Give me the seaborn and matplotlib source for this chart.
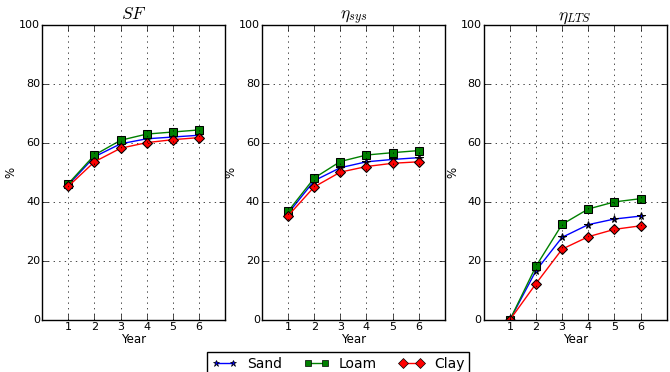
import pandas as pd
import matplotlib
matplotlib.use("Agg")
import matplotlib.pyplot as plt
import seaborn as sns

plt.style.use("classic")

years = [1, 2, 3, 4, 5, 6]
soils = ["Sand", "Loam", "Clay"]
titles = [r"$SF$", r"$\eta_{sys}$", r"$\eta_{LTS}$"]

# SF
sf_sand = [45.8, 55.3, 59.7, 61.4, 62.0, 62.6]
sf_loam = [46.2, 55.9, 60.9, 63.0, 63.7, 64.4]
sf_clay = [45.3, 53.6, 58.2, 60.1, 61.1, 61.8]
# eta_sys
sys_sand = [36.1, 47.2, 51.6, 53.6, 54.4, 55.0]
sys_loam = [36.8, 48.1, 53.7, 55.9, 56.7, 57.4]
sys_clay = [35.3, 45.1, 50.1, 52.0, 53.1, 53.6]
# eta_LTS
lts_sand = [0.0, 16.7, 28.0, 32.3, 34.2, 35.2]
lts_loam = [0.0, 18.2, 32.4, 37.6, 40.0, 41.1]
lts_clay = [0.0, 12.3, 24.0, 28.2, 30.7, 31.9]

panels = [
    [sf_sand, sf_loam, sf_clay],
    [sys_sand, sys_loam, sys_clay],
    [lts_sand, lts_loam, lts_clay],
]

farby = {"Sand": "blue", "Loam": "green", "Clay": "red"}
markery = {"Sand": "*", "Loam": "s", "Clay": "D"}

fig = plt.figure(figsize=(6.7, 3.72), dpi=100)
fig.patch.set_facecolor("white")
lefts = [0.063, 0.391, 0.722]
axes = [fig.add_axes([l, 0.14, 0.273, 0.793]) for l in lefts]

for ax, tytul, seria in zip(axes, titles, panels):
    rows = []
    for soil, vals in zip(soils, seria):
        for y, v in zip(years, vals):
            rows.append({"Year": y, "val": v, "soil": soil})
    df = pd.DataFrame(rows)
    sns.lineplot(data=df, x="Year", y="val", hue="soil", style="soil",
                 palette=farby, markers=markery, dashes=False,
                 markeredgecolor="black", markersize=5.5, linewidth=1,
                 ax=ax, legend=False)
    ax.set_xlim(0, 7)
    ax.set_ylim(0, 100)
    ax.set_xticks(years)
    ax.set_yticks([0, 20, 40, 60, 80, 100])
    ax.grid(True, linestyle=":", color="black", linewidth=0.5)
    ax.set_title(tytul, fontsize=12.5, pad=4)
    ax.set_xlabel("Year", fontsize=8.5, labelpad=1)
    ax.set_ylabel("%", fontsize=8.5, labelpad=1)
    ax.tick_params(labelsize=8, pad=1.5)
    ax.set_facecolor("white")

handles = [plt.Line2D([], [], color=farby[s], marker=markery[s],
                      markeredgecolor="black", markerfacecolor=farby[s],
                      markersize=5, linewidth=1) for s in soils]
fig.legend(handles, soils, loc="lower center", ncol=3,
           bbox_to_anchor=(0.505, -0.03), fontsize=10,
           numpoints=2, handlelength=1.8, columnspacing=1.6,
           handletextpad=0.7, borderpad=0.35, fancybox=False)

plt.savefig("out.png", dpi=100, facecolor="white")
